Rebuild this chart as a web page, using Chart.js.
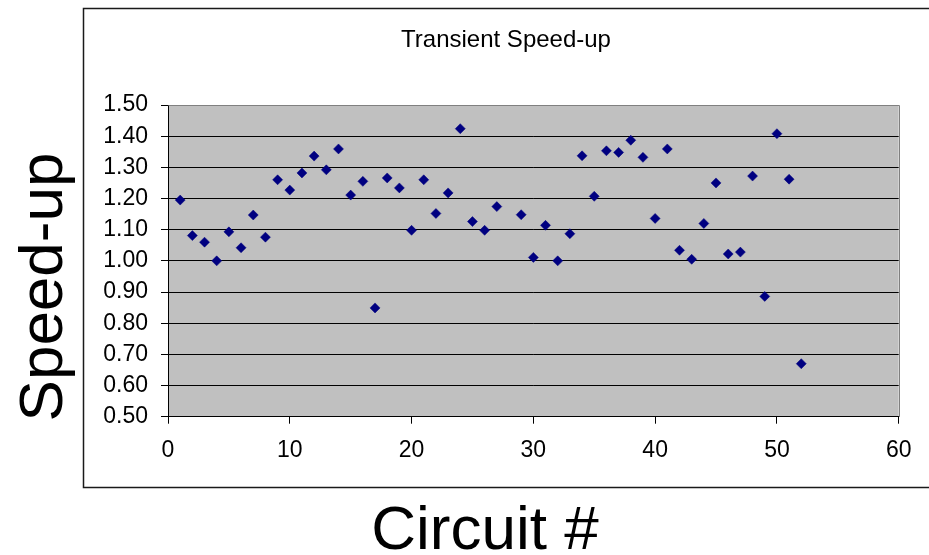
<!DOCTYPE html>
<html>
<head>
<meta charset="utf-8">
<title>Transient Speed-up</title>
<script src="https://cdn.jsdelivr.net/npm/chart.js@4.4.1/dist/chart.umd.min.js"></script>
<style>
  html, body { margin: 0; padding: 0; background: #ffffff; }
  #wrap { width: 929px; height: 555px; position: relative; }
</style>
</head>
<body>
<div id="wrap"><canvas id="chart" width="929" height="555"></canvas></div>
<script>
// Circuit numbers (circuit 28 has no measurement)
const circuits = [
  1, 2, 3, 4, 5, 6, 7, 8, 9, 10,
  11, 12, 13, 14, 15, 16, 17, 18, 19, 20,
  21, 22, 23, 24, 25, 26, 27, 29, 30,
  31, 32, 33, 34, 35, 36, 37, 38, 39, 40,
  41, 42, 43, 44, 45, 46, 47, 48, 49, 50,
  51, 52
];

// Transient speed-up per circuit
const speedups = [
  1.195, 1.081, 1.060, 1.000, 1.093, 1.042, 1.147, 1.076, 1.260, 1.227,
  1.282, 1.336, 1.292, 1.359, 1.211, 1.255, 0.849, 1.266, 1.234, 1.098,
  1.260, 1.152, 1.218, 1.424, 1.126, 1.098, 1.174, 1.148, 1.011,
  1.114, 1.000, 1.087, 1.337, 1.207, 1.353, 1.348, 1.387, 1.332, 1.136,
  1.359, 1.034, 1.005, 1.120, 1.250, 1.022, 1.028, 1.272, 0.886, 1.408,
  1.262, 0.670
];

// Axis tick values
const xTicks = [0, 10, 20, 30, 40, 50, 60];
const yTicks = [0.5, 0.6, 0.7, 0.8, 0.9, 1.0, 1.1, 1.2, 1.3, 1.4, 1.5];

const chartTitle = 'Transient Speed-up';
const xTitle = 'Circuit #';
const yTitle = 'Speed-up';

const FONT = '"Liberation Sans", Arial, Helvetica, sans-serif';
Chart.defaults.font.family = FONT;
Chart.defaults.color = '#000000';

const points = circuits.map((c, i) => ({ x: c, y: speedups[i] }));

// Grey plot background, outer frame, chart title and the large axis titles
const frame = {
  id: 'frame',
  beforeDraw(chart) {
    const { ctx, chartArea: a } = chart;
    ctx.save();
    ctx.fillStyle = '#ffffff';
    ctx.fillRect(0, 0, chart.width, chart.height);
    ctx.fillStyle = '#c0c0c0';
    ctx.fillRect(a.left, a.top, a.right - a.left, a.bottom - a.top);
    ctx.restore();
  },
  beforeDatasetsDraw(chart) {
    const { ctx, chartArea: a } = chart;
    ctx.save();
    ctx.strokeStyle = '#808080';
    ctx.lineWidth = 1;
    ctx.beginPath();
    ctx.moveTo(Math.round(a.left) + 0.5, Math.round(a.top) + 0.5);
    ctx.lineTo(Math.round(a.right) + 0.5, Math.round(a.top) + 0.5);
    ctx.lineTo(Math.round(a.right) + 0.5, Math.round(a.bottom));
    ctx.stroke();
    ctx.restore();
  },
  afterDraw(chart) {
    const { ctx } = chart;
    ctx.save();
    // outer chart frame
    ctx.strokeStyle = '#1a1a1a';
    ctx.lineWidth = 1.5;
    ctx.strokeRect(83.5, 8.5, 860, 479);
    ctx.fillStyle = '#000000';
    ctx.textAlign = 'center';
    ctx.textBaseline = 'alphabetic';
    // chart title, centred in the frame
    ctx.font = '24px ' + FONT;
    ctx.fillText(chartTitle, 506, 47);
    // axis titles
    ctx.font = '62px ' + FONT;
    ctx.fillText(xTitle, 485, 549);
    ctx.translate(62, 287);
    ctx.rotate(-Math.PI / 2);
    ctx.fillText(yTitle, 0, 0);
    ctx.restore();
  }
};

new Chart(document.getElementById('chart'), {
  type: 'scatter',
  data: {
    datasets: [{
      label: yTitle,
      data: points,
      pointStyle: 'rectRot',
      pointRadius: 5,
      pointHoverRadius: 5,
      pointBackgroundColor: '#000080',
      pointBorderColor: '#000080',
      pointBorderWidth: 0.5,
      showLine: false
    }]
  },
  options: {
    responsive: false,
    animation: false,
    events: [],
    layout: { padding: { left: 83, right: 30.3, top: 105, bottom: 0 } },
    plugins: {
      legend: { display: false },
      tooltip: { enabled: false },
      title: { display: false }
    },
    scales: {
      x: {
        type: 'linear',
        min: 0,
        max: 60,
        afterBuildTicks(scale) { scale.ticks = xTicks.map(v => ({ value: v })); },
        afterFit(scale) { scale.height = 138.3; },
        grid: {
          drawOnChartArea: false,
          drawTicks: true,
          tickLength: 7,
          color: '#000000',
          lineWidth: 1
        },
        border: { display: true, color: '#000000', width: 1 },
        ticks: {
          padding: 13.4,
          color: '#000000',
          font: { size: 23, family: FONT },
          maxRotation: 0,
          callback: v => String(v)
        }
      },
      y: {
        type: 'linear',
        min: 0.5,
        max: 1.5,
        afterBuildTicks(scale) { scale.ticks = yTicks.map(v => ({ value: v })); },
        afterFit(scale) { scale.width = 85; },
        grid: {
          drawOnChartArea: true,
          drawTicks: true,
          tickLength: 7,
          color: '#000000',
          lineWidth: 1
        },
        border: { display: true, color: '#000000', width: 1 },
        ticks: {
          padding: 13,
          color: '#000000',
          font: { size: 23, family: FONT },
          callback: v => Number(v).toFixed(2)
        }
      }
    }
  },
  plugins: [frame]
});
</script>
</body>
</html>
